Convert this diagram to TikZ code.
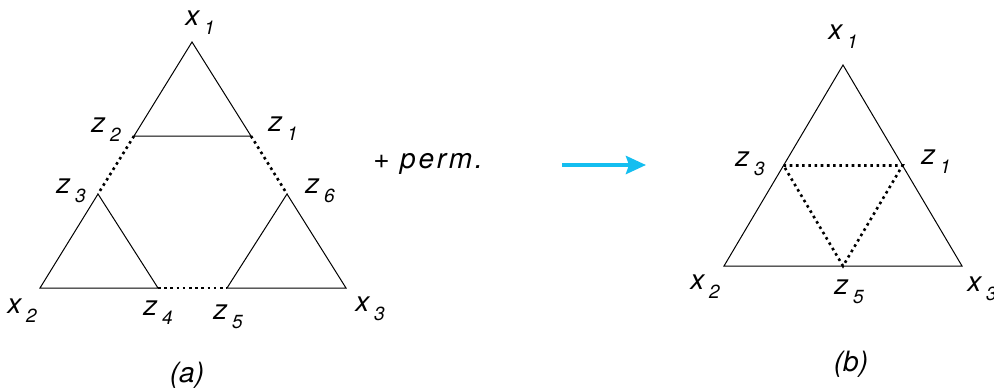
\documentclass[tikz,border=0pt]{standalone}
\usepackage{fontspec}
\setmainfont{TeX Gyre Heros}
\usetikzlibrary{arrows.meta, positioning}
\definecolor{permcyan}{RGB}{20, 190, 240}
\newcommand{\lblsub}[2]{#1\,\raisebox{-4.5pt}{\fontsize{9.5}{11}\selectfont #2}}
\tikzset{
  vlabel/.style={
    inner sep=0pt,
    font=\itshape\fontsize{14}{16}\selectfont
  },
  side/.style={
    draw=black,
    line width=0.5pt,
    line join=miter
  },
  tie/.style={
    draw=black,
    line width=1.3pt,
    dash pattern=on 1.3pt off 1.8pt
  },
  mapsto/.style={
    draw=permcyan,
    line width=2pt,
    -{Stealth[length=10pt, width=9pt, inset=1.5pt]}
  }
}

\begin{document}
\begin{tikzpicture}[x=0.5pt, y=-0.5pt]
          \useasboundingbox (0,0) rectangle (994,391);
          % (a)
          \coordinate (ax1) at (192, 42);
          \coordinate (ax2) at (40, 288);
          \coordinate (ax3) at (346, 288);
          \coordinate (az1) at (251, 136);
          \coordinate (az2) at (134, 136);
          \coordinate (az3) at (98, 194);
          \coordinate (az4) at (158, 288);
          \coordinate (az5) at (227, 288);
          \coordinate (az6) at (287, 194);

          \draw[side] (ax1) -- (az2) -- (az1) -- cycle;
          \draw[side] (az3) -- (ax2) -- (az4) -- cycle;
          \draw[side] (az6) -- (az5) -- (ax3) -- cycle;
          \draw[tie] (az2) -- (az3);
          \draw[tie] (az1) -- (az6);
          \draw[tie] (az4) -- (az5);

          \node[vlabel] (lax1) at (200, 23) {\lblsub{x}{1}};
          \node[vlabel] (lax2) at (22, 311) {\lblsub{x}{2}};
          \node[vlabel] (lax3) at (370, 309) {\lblsub{x}{3}};
          \node[vlabel] (laz1) at (283, 129) {\lblsub{z}{1}};
          \node[vlabel] (laz2) at (106, 130) {\lblsub{z}{2}};
          \node[vlabel] (laz3) at (71, 191) {\lblsub{z}{3}};
          \node[vlabel] (laz4) at (158, 313) {\lblsub{z}{4}};
          \node[vlabel] (laz5) at (228, 317) {\lblsub{z}{5}};
          \node[vlabel] (laz6) at (320, 191) {\lblsub{z}{6}};
          \node[vlabel] (capa) at (187, 375) {(a)};

          \node[vlabel] (perm) at (428, 164) {\addfontfeature{LetterSpace=10}+ perm.};

          \coordinate (arrs) at (562, 165);
          \coordinate (arre) at (646, 165);
          \draw[mapsto] (arrs) -- (arre);

          % (b)
          \coordinate (bx1) at (843, 65);
          \coordinate (bx2) at (724, 266);
          \coordinate (bx3) at (962, 266);
          \coordinate (bz3) at (783.5, 165.5);
          \coordinate (bz1) at (902.5, 165.5);
          \coordinate (bz5) at (843, 266);

          \draw[side] (bx1) -- (bx2) -- (bx3) -- cycle;
          \draw[tie] (bz3) -- (bz1) -- (bz5) -- cycle;

          \node[vlabel] (lbx1) at (843, 37) {\lblsub{x}{1}};
          \node[vlabel] (lbx2) at (705, 287) {\lblsub{x}{2}};
          \node[vlabel] (lbx3) at (982, 289) {\lblsub{x}{3}};
          \node[vlabel] (lbz1) at (936, 162) {\lblsub{z}{1}};
          \node[vlabel] (lbz3) at (750, 164) {\lblsub{z}{3}};
          \node[vlabel] (lbz5) at (849, 292) {\lblsub{z}{5}};
          \node[vlabel] (capb) at (851, 364) {(b)};
        \end{tikzpicture}
\end{document}
